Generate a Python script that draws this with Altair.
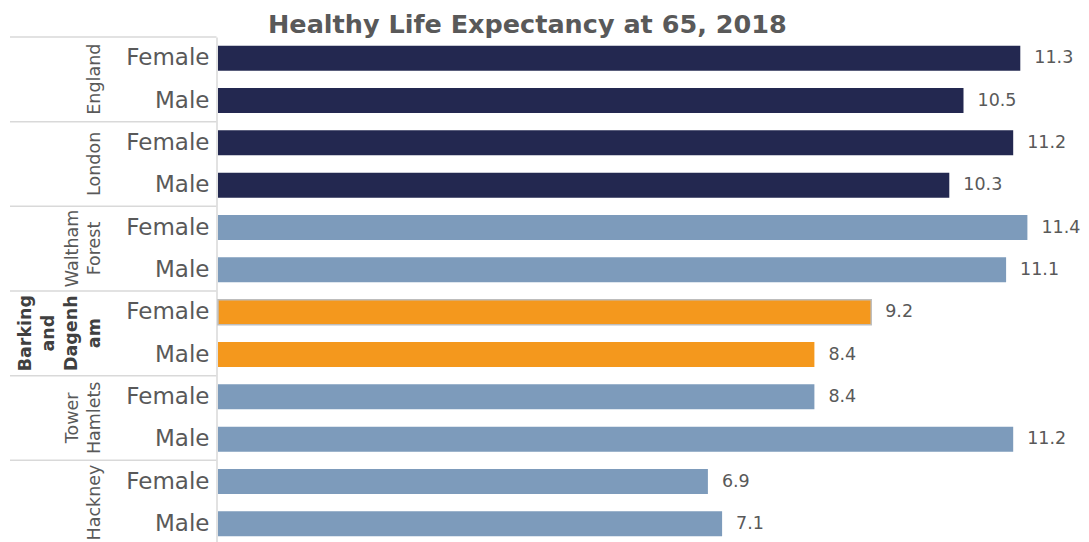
import altair as alt
import pandas as pd

regions = ["England", "London", "Waltham Forest", "Barking and Dagenham", "Tower Hamlets", "Hackney"]
region_lines = [["England"], ["London"], ["Waltham", "Forest"], ["Barking", "and", "Dagenh", "am"], ["Tower", "Hamlets"], ["Hackney"]]
groups = ["comparator", "comparator", "borough", "highlight", "borough", "borough"]
sexes = ["Female", "Male"]
female = [11.3, 11.2, 11.4, 9.2, 8.4, 6.9]
male = [10.5, 10.3, 11.1, 8.4, 11.2, 7.1]

rows = []
for i, r in enumerate(regions):
    for s, vals in zip(sexes, [female, male]):
        rows.append({"key": f"{r}|{s}", "region": r, "sex": s, "value": vals[i],
                     "group": groups[i], "outline": "yes" if (groups[i] == "highlight" and s == "Female") else "no"})
df = pd.DataFrame(rows)
order = list(df["key"])

reg_df = pd.DataFrame({"key": [f"{r}|Female" for r in regions], "region": regions,
                       "lines": region_lines, "group": groups})

FONT = "DejaVu Sans"
GRAY = "#595959"
LH = 22.5

y_enc = alt.Y("key:N", sort=order, title=None,
              scale=alt.Scale(paddingInner=0, paddingOuter=0),
              axis=alt.Axis(labelExpr="split(datum.value, '|')[1]", ticks=False,
                            labelFont=FONT, labelFontSize=23, labelColor=GRAY, offset=1.5,
                            labelPadding=7.5, domainColor="#d9d9d9", domainWidth=1.5))
x_scale = alt.Scale(domain=[0, 12])

bars = alt.Chart(df).mark_bar(size=25, strokeWidth=1.5).encode(
    x=alt.X("value:Q", scale=x_scale, axis=None),
    y=y_enc,
    color=alt.Color("group:N", legend=None,
                    scale=alt.Scale(domain=["comparator", "borough", "highlight"],
                                    range=["#232850", "#7d9bbb", "#f4981d"])),
    stroke=alt.Stroke("outline:N", legend=None,
                      scale=alt.Scale(domain=["yes", "no"], range=["#bdbdbd", "transparent"])),
)

labels = alt.Chart(df).mark_text(align="left", baseline="middle", dx=14, font=FONT,
                                 fontSize=17.5, color=GRAY).encode(
    x=alt.X("value:Q", scale=x_scale),
    y=alt.Y("key:N", sort=order),
    text=alt.Text("value:Q", format=".1f"),
)

seps = alt.Chart(reg_df).mark_rule(color="#d9d9d9", strokeWidth=1.5).encode(
    y=alt.Y("key:N", sort=order, bandPosition=0),
    x=alt.value(-208),
    x2=alt.value(-1.5),
)


def region_layer(bold):
    cond = (alt.datum.group == "highlight") if bold else (alt.datum.group != "highlight")
    lh = 23 if bold else LH
    return alt.Chart(reg_df).transform_filter(cond).transform_calculate(
        lx=f"-118 - (length(datum.lines) - 1) * {lh}"
    ).mark_text(
        angle=270, align="center", baseline="alphabetic", dx=-21, font=FONT, fontSize=17.5,
        fontWeight="bold" if bold else "normal", lineHeight=lh,
        color="#404040" if bold else GRAY).encode(
        y=alt.Y("key:N", sort=order),
        x=alt.X("lx:Q", scale=None),
        text="lines",
    )


chart = alt.layer(bars, labels, seps, region_layer(False), region_layer(True)).properties(
    width=852, height=508,
    autosize=alt.AutoSizeParams(type="none"),
    padding={"left": 210, "top": 29, "right": 11, "bottom": 0},
    title=alt.TitleParams("Healthy Life Expectancy at 65, 2018", font=FONT, fontSize=25.5,
                          fontWeight="bold", color=GRAY, anchor="start", frame="group",
                          dx=50, offset=-2),
).configure_view(stroke=None)

chart.save("out.html", embed_options={"renderer": "svg", "actions": False})
